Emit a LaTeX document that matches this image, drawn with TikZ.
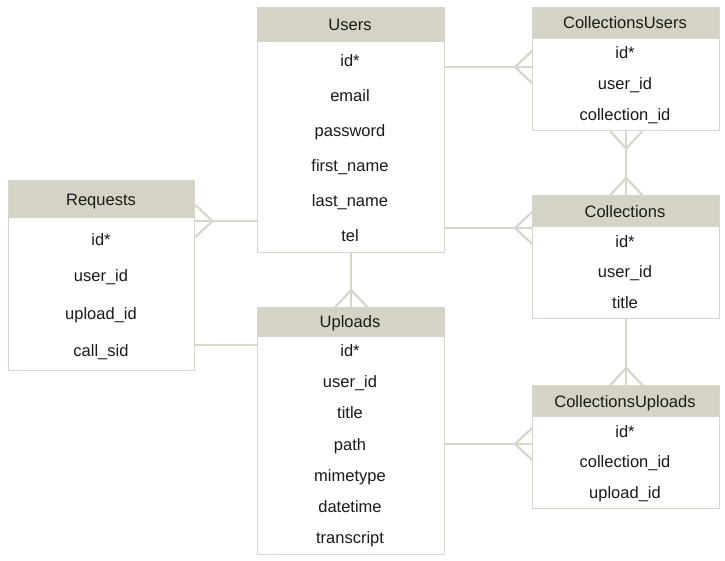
\documentclass[tikz,border=0pt]{standalone}
\usepackage{fontspec}
\setmainfont{Liberation Sans}
\usetikzlibrary{calc}
\definecolor{ln}{HTML}{D8D6CA}
\definecolor{hd}{HTML}{D5D3C5}
\definecolor{tx}{HTML}{1A1A1A}
\tikzset{
  tbl/.style={draw=ln, line width=1.4pt, fill=white, anchor=north west, inner sep=0pt},
  hdr/.style={fill=hd, draw=ln, line width=1.4pt, anchor=north west, inner sep=0pt},
  lbl/.style={text=tx, font=\fontsize{16.5}{19}\selectfont, inner sep=0pt, anchor=base, yshift=-6pt},
  conn/.style={draw=ln, line width=2.2pt},
  crow/.pic={\draw[conn] (-17,0) -- (0,16) (-17,0) -- (0,-16);}
}
\begin{document}
\begin{tikzpicture}[x=1pt,y=-1pt]
\useasboundingbox (0,0) rectangle (725,560);
% Users
\node[tbl, minimum width=187pt, minimum height=245pt] (users) at (257,7) {};
\node[hdr, minimum width=187pt, minimum height=34pt] (usersh) at (257,7) {};
\node[lbl] (usersT) at (350,24) {Users};
\node[lbl] (u1) at (350,60) {id*};
\node[lbl] (u2) at (350,95) {email};
\node[lbl] (u3) at (350,130) {password};
\node[lbl] (u4) at (350,165) {first\_name};
\node[lbl] (u5) at (350,200) {last\_name};
\node[lbl] (u6) at (350,235) {tel};
% Requests
\node[tbl, minimum width=186pt, minimum height=190pt] (req) at (8,180) {};
\node[hdr, minimum width=186pt, minimum height=37pt] (reqh) at (8,180) {};
\node[lbl] (reqT) at (101,199) {Requests};
\node[lbl] (r1) at (101,239) {id*};
\node[lbl] (r2) at (101,275) {user\_id};
\node[lbl] (r3) at (101,313) {upload\_id};
\node[lbl] (r4) at (101,350) {call\_sid};
% Uploads
\node[tbl, minimum width=187pt, minimum height=247pt] (upl) at (257,307) {};
\node[hdr, minimum width=187pt, minimum height=29pt] (uplh) at (257,307) {};
\node[lbl] (uplT) at (350,321) {Uploads};
\node[lbl] (p1) at (350,350) {id*};
\node[lbl] (p2) at (350,381) {user\_id};
\node[lbl] (p3) at (350,412) {title};
\node[lbl] (p4) at (350,444) {path};
\node[lbl] (p5) at (350,475) {mimetype};
\node[lbl] (p6) at (350,506) {datetime};
\node[lbl] (p7) at (350,537) {transcript};
% CollectionsUsers
\node[tbl, minimum width=187pt, minimum height=123pt] (cu) at (532,7) {};
\node[hdr, minimum width=187pt, minimum height=31pt] (cuh) at (532,7) {};
\node[lbl] (cuT) at (625,22) {CollectionsUsers};
\node[lbl] (cu1) at (625,52) {id*};
\node[lbl] (cu2) at (625,83) {user\_id};
\node[lbl] (cu3) at (625,114) {collection\_id};
% Collections
\node[tbl, minimum width=187pt, minimum height=123pt] (col) at (532,195) {};
\node[hdr, minimum width=187pt, minimum height=31pt] (colh) at (532,195) {};
\node[lbl] (colT) at (625,211) {Collections};
\node[lbl] (c1) at (625,241) {id*};
\node[lbl] (c2) at (625,271) {user\_id};
\node[lbl] (c3) at (625,302) {title};
% CollectionsUploads
\node[tbl, minimum width=187pt, minimum height=123pt] (cup) at (532,385) {};
\node[hdr, minimum width=187pt, minimum height=31pt] (cuph) at (532,385) {};
\node[lbl] (cupT) at (625,401) {CollectionsUploads};
\node[lbl] (cp1) at (625,431) {id*};
\node[lbl] (cp2) at (625,461) {collection\_id};
\node[lbl] (cp3) at (625,492) {upload\_id};
% connectors
\coordinate (a1) at (users.east |- 0,67);
\coordinate (a2) at (cuh.west |- 0,67);
\draw[conn] (a1) -- (a2);
\pic at (a2) {crow};
\coordinate (b1) at (users.east |- 0,228);
\coordinate (b2) at (colh.west |- 0,228);
\draw[conn] (b1) -- (b2);
\pic at (b2) {crow};
\coordinate (c1a) at (cu.south);
\coordinate (c2a) at (colh.north);
\draw[conn] (c1a) -- (c2a);
\pic[rotate=90] at (c1a) {crow};
\pic[rotate=-90] at (c2a) {crow};
\coordinate (d1) at (req.east |- 0,221);
\coordinate (d2) at (users.west |- 0,221);
\draw[conn] (d1) -- (d2);
\pic[rotate=180] at (d1) {crow};
\coordinate (e1) at (users.south);
\coordinate (e2) at (uplh.north);
\draw[conn] (e1) -- (e2);
\pic[rotate=-90] at (e2) {crow};
\coordinate (f1) at (req.east |- 0,345);
\coordinate (f2) at (upl.west |- 0,345);
\draw[conn] (f1) -- (f2);
\coordinate (g1) at (col.south);
\coordinate (g2) at (cuph.north);
\draw[conn] (g1) -- (g2);
\pic[rotate=-90] at (g2) {crow};
\coordinate (h1) at (upl.east |- 0,444);
\coordinate (h2) at (cup.west |- 0,444);
\draw[conn] (h1) -- (h2);
\pic at (h2) {crow};
\end{tikzpicture}
\end{document}
